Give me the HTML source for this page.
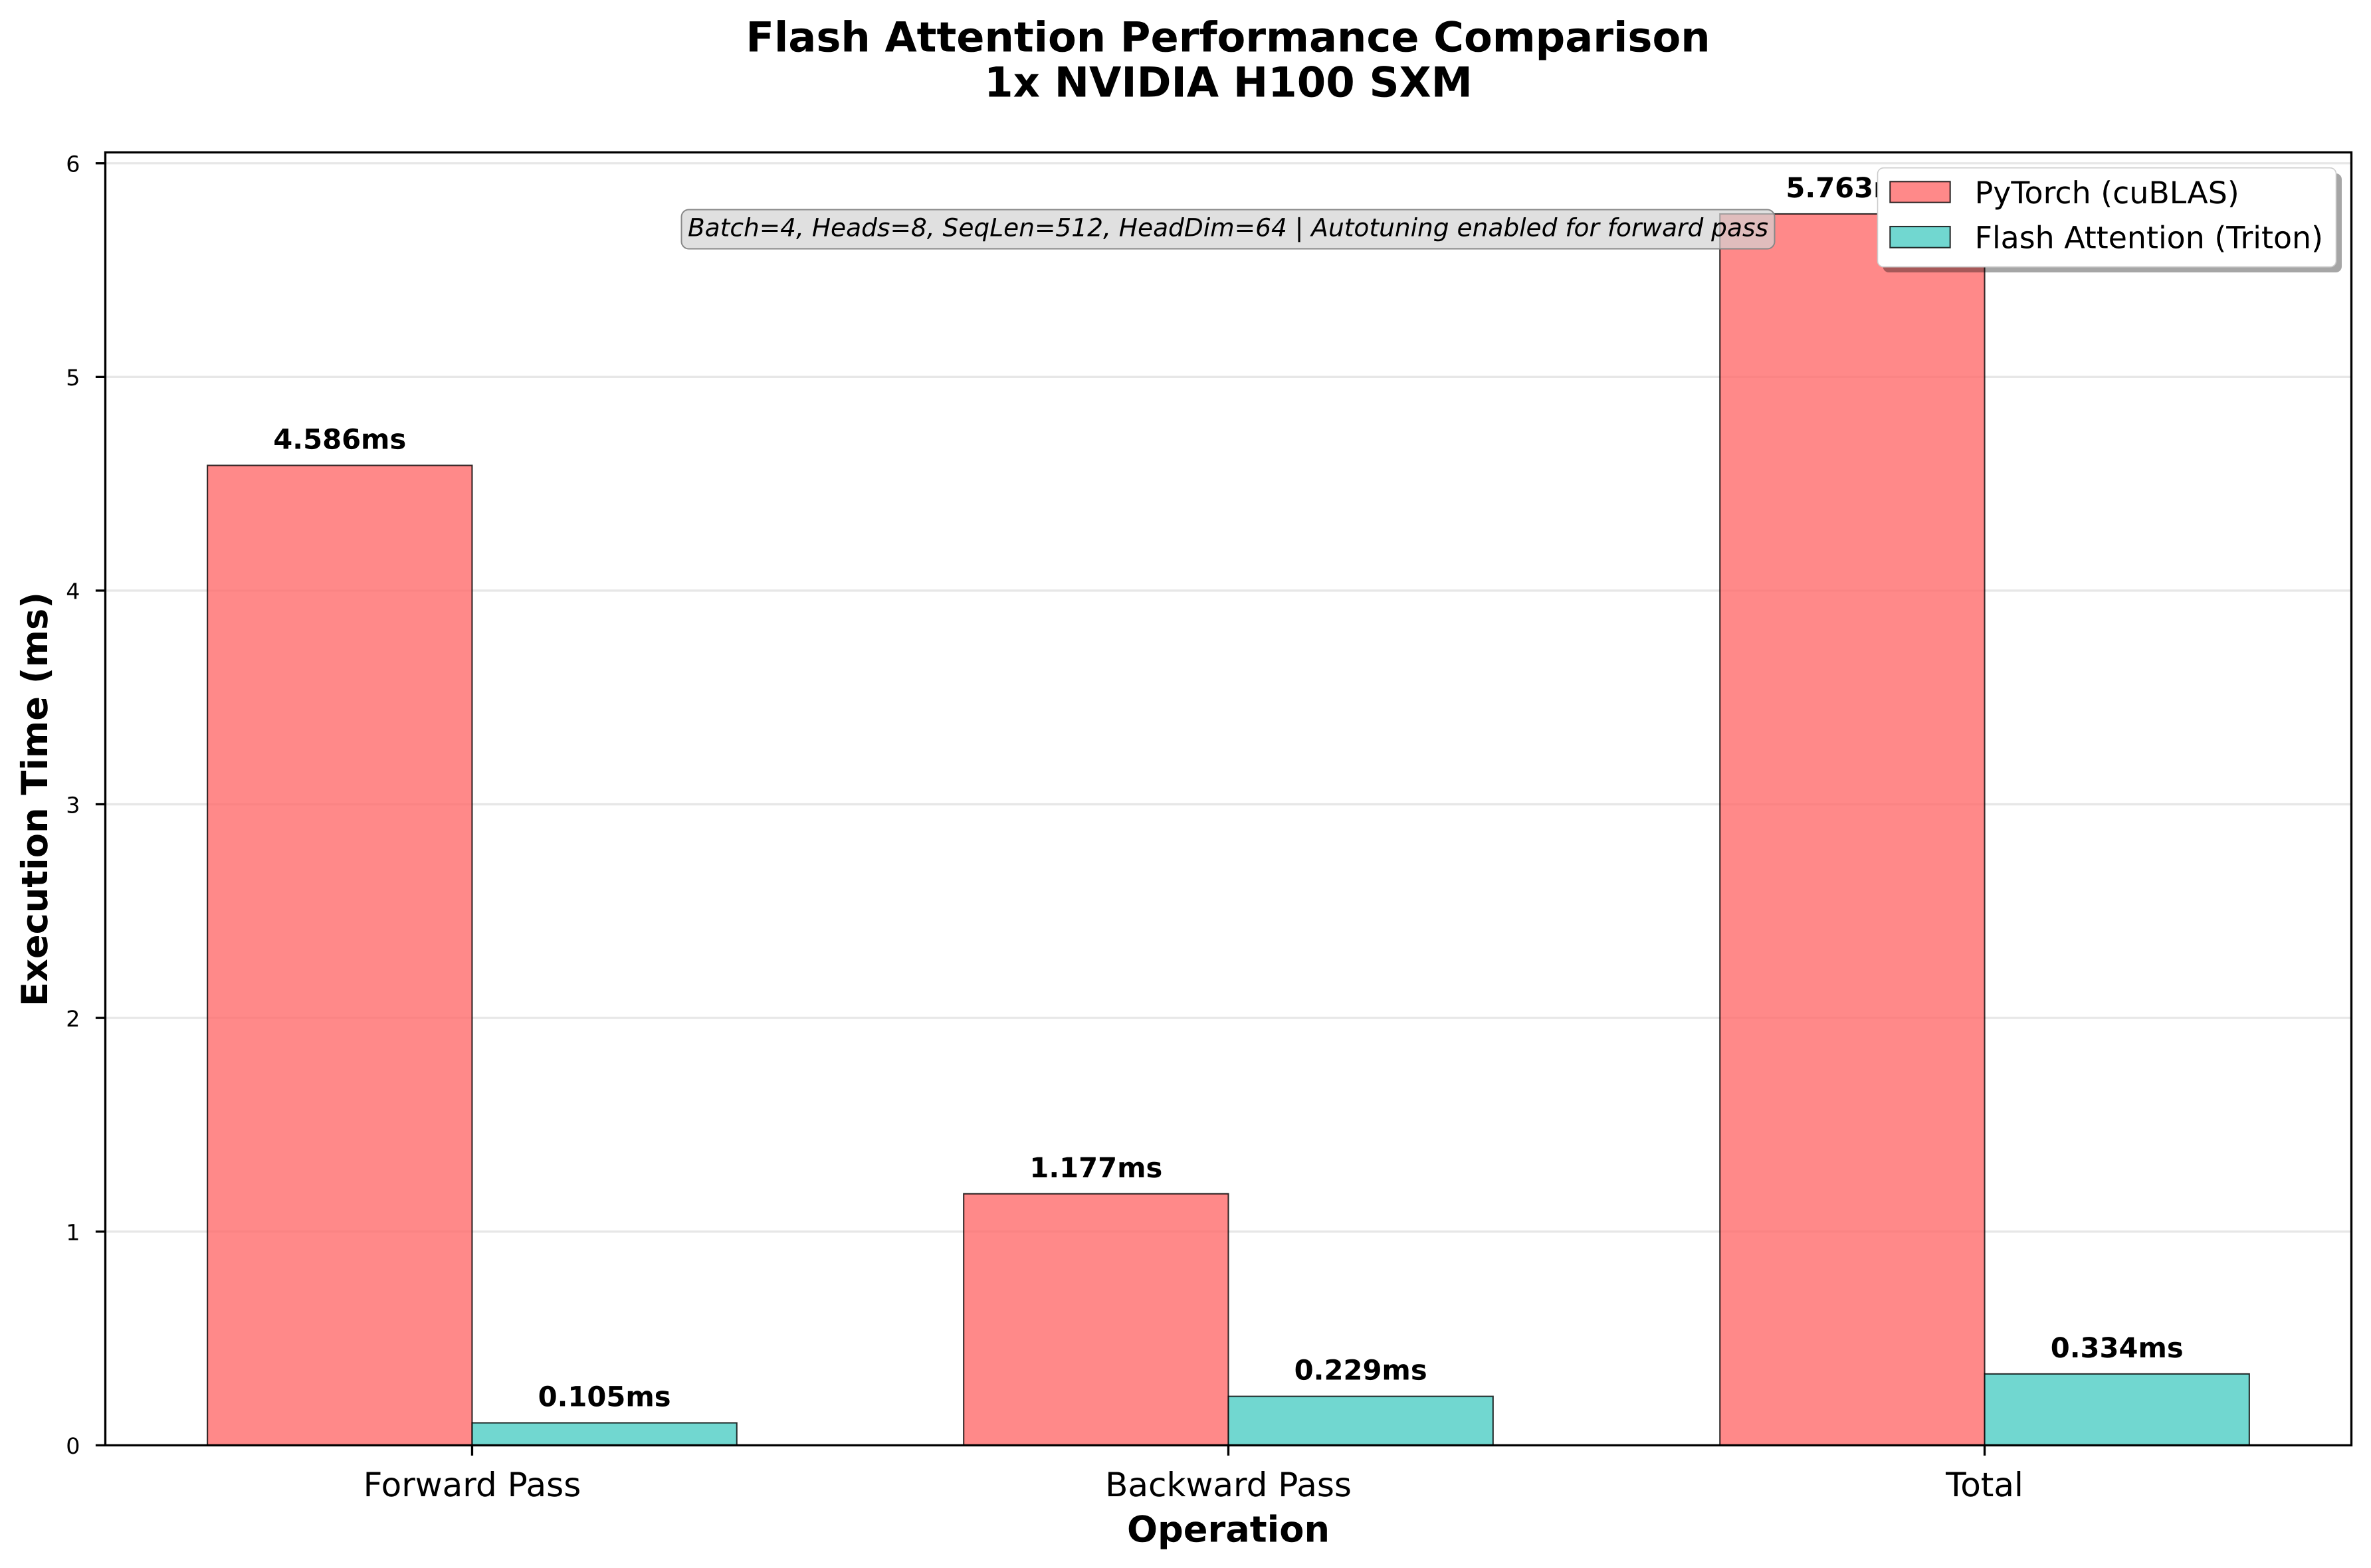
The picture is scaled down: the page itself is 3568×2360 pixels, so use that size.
<!DOCTYPE html>
<html lang="en">
<head>
<meta charset="utf-8">
<title>Flash Attention Performance Comparison</title>
<style>
  html, body { margin: 0; padding: 0; background: #fff; }
  svg { display: block; }
  text { font-family: "DejaVu Sans", "Liberation Sans", sans-serif; fill: #000; text-rendering: geometricPrecision; }
  .bold { font-weight: 700; }
</style>
</head>
<body>
<svg id="chart" xmlns="http://www.w3.org/2000/svg" width="3568" height="2360" viewBox="0 0 3568 2360">
  <rect x="0" y="0" width="3568" height="2360" fill="#ffffff"/>
  <text class="bold" x="1848" y="77.3" font-size="62.3" text-anchor="middle">Flash Attention Performance Comparison</text>
  <text class="bold" x="1848.5" y="145.7" font-size="62.5" text-anchor="middle">1x NVIDIA H100 SXM</text>
  <g id="grid"></g>
  <g id="bars"></g>
  <g id="values"></g>
  <g>
    <rect x="1025.5" y="315.5" width="1645" height="59" rx="11" fill="#d3d3d3" fill-opacity="0.7" stroke="#888888" stroke-width="2"/>
    <text x="1848" y="355.7" font-size="37.5" font-style="italic" text-anchor="middle">Batch=4, Heads=8, SeqLen=512, HeadDim=64 | Autotuning enabled for forward pass</text>
  </g>
  <g id="axes"></g>
  <text class="bold" x="1848.5" y="2320.7" font-size="54.17" text-anchor="middle">Operation</text>
  <text class="bold" x="0" y="0" font-size="54.17" text-anchor="middle" transform="translate(71 1203) rotate(-90)">Execution Time (ms)</text>
  <g>
    <rect x="2833.5" y="261" width="690.5" height="149" rx="9" fill="#000000" fill-opacity="0.35"/>
    <rect x="2825.5" y="252.7" width="690" height="149" rx="9" fill="#ffffff" stroke="#cccccc" stroke-width="1.6"/>
    <g>
      <rect x="2844.3" y="273.3" width="90.4" height="31.4" fill="#FF6B6B" fill-opacity="0.8" stroke="#000000" stroke-opacity="0.8" stroke-width="2.08"/>
      <text x="2971.6" y="306" font-size="45.83">PyTorch (cuBLAS)</text>
    </g>
    <g>
      <rect x="2844.3" y="341" width="90.4" height="31.7" fill="#4ECDC4" fill-opacity="0.8" stroke="#000000" stroke-opacity="0.8" stroke-width="2.08"/>
      <text x="2971.6" y="373.7" font-size="45.83">Flash Attention (Triton)</text>
    </g>
  </g>
</svg>
<script>
const categories = ["Forward Pass", "Backward Pass", "Total"];
const pytorchValues = [4.586, 1.177, 5.763];
const flashValues = [0.105, 0.229, 0.334];
const pytorchLabels = ["4.586ms", "1.177ms", "5.763ms"];
const flashLabels = ["0.105ms", "0.229ms", "0.334ms"];
const yTickValues = [0, 1, 2, 3, 4, 5, 6];
const yTickLabels = ["0", "1", "2", "3", "4", "5", "6"];

const NS = "http://www.w3.org/2000/svg";
const plot = { left: 158.5, right: 3538.5, top: 229.3, bottom: 2175.3 };
const barWidth = 0.35;
const xMin = -barWidth - 0.135;
const xMax = categories.length - 1 + barWidth + 0.135;
const yMax = Math.max(...pytorchValues, ...flashValues) * 1.05;

function xScale(v) {
  return plot.left + (v - xMin) / (xMax - xMin) * (plot.right - plot.left);
}
function yScale(v) {
  return plot.bottom - v / yMax * (plot.bottom - plot.top);
}
function make(tag, parent, attrs) {
  const el = document.createElementNS(NS, tag);
  for (const k in attrs) el.setAttribute(k, attrs[k]);
  parent.appendChild(el);
  return el;
}

const gridGroup = document.getElementById("grid");
const barGroup = document.getElementById("bars");
const valueGroup = document.getElementById("values");
const axesGroup = document.getElementById("axes");

yTickValues.forEach(function (v, i) {
  const line = make("line", gridGroup, { x1: plot.left, x2: plot.right, y1: yScale(v), y2: yScale(v), stroke: "#b0b0b0", "stroke-opacity": 0.3, "stroke-width": 3.33 });
  
  
});

function drawSeries(values, labels, offset, color, slug) {
  values.forEach(function (v, i) {
    const x0 = xScale(i + offset);
    const x1 = xScale(i + offset + barWidth);
    const bar = make("rect", barGroup, { x: x0, y: yScale(v), width: x1 - x0, height: yScale(0) - yScale(v), fill: color, "fill-opacity": 0.8, stroke: "#000000", "stroke-opacity": 0.8, "stroke-width": 2.08 });
    
    
    const label = make("text", valueGroup, { x: (x0 + x1) / 2, y: yScale(v) - 25, "font-size": 41.67, "text-anchor": "middle", "font-weight": 700 });
    label.textContent = labels[i];
    
    
  });
}
drawSeries(pytorchValues, pytorchLabels, -barWidth, "#FF6B6B", "pytorch");
drawSeries(flashValues, flashLabels, 0, "#4ECDC4", "flash-attention");

yTickValues.forEach(function (v, i) {
  const tick = make("line", axesGroup, { x1: plot.left - 14.6, x2: plot.left, y1: yScale(v), y2: yScale(v), stroke: "#000", "stroke-width": 3.33 });
  
  
  const label = make("text", axesGroup, { x: 120.5, y: yScale(v) + 12.8, "font-size": 33.33, "text-anchor": "end" });
  label.textContent = yTickLabels[i];
  
  
});

categories.forEach(function (c, i) {
  const tick = make("line", axesGroup, { x1: xScale(i), x2: xScale(i), y1: plot.bottom, y2: plot.bottom + 15.5, stroke: "#000", "stroke-width": 3.33 });
  
  
  const label = make("text", axesGroup, { x: xScale(i), y: 2252.2, "font-size": 50, "text-anchor": "middle" });
  label.textContent = c;
  
  
});

const frame = make("rect", axesGroup, { x: plot.left, y: plot.top, width: plot.right - plot.left, height: plot.bottom - plot.top, fill: "none", stroke: "#000", "stroke-width": 3.33 });


</script>
</body>
</html>
